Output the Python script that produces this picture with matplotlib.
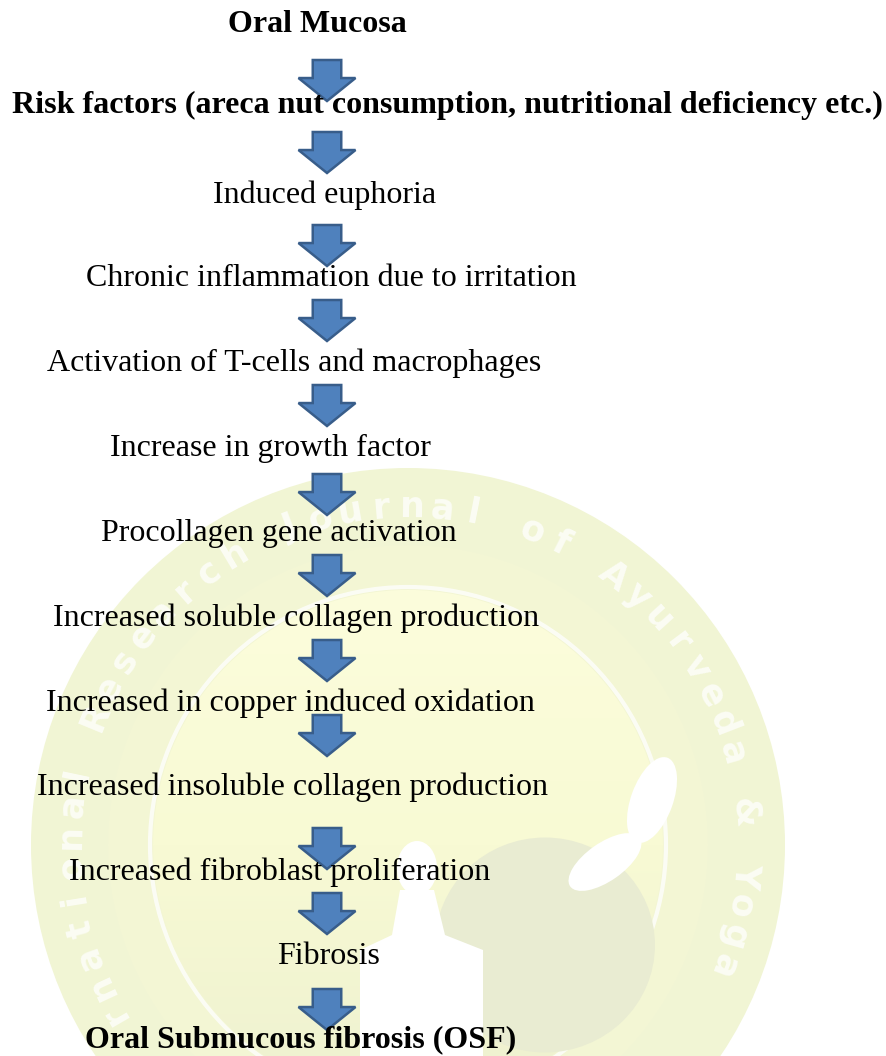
import numpy as np
import matplotlib
matplotlib.use("Agg")
import matplotlib.pyplot as plt
from matplotlib.patches import Polygon, Circle, Ellipse

# Flowchart steps (top to bottom)
steps = [
    "Oral Mucosa",
    "Risk factors (areca nut consumption, nutritional deficiency etc.)",
    "Induced euphoria",
    "Chronic inflammation due to irritation",
    "Activation of T-cells and macrophages",
    "Increase in growth factor",
    "Procollagen gene activation",
    "Increased soluble collagen production",
    "Increased in copper induced oxidation",
    "Increased insoluble collagen production",
    "Increased fibroblast proliferation",
    "Fibrosis",
    "Oral Submucous fibrosis (OSF)",
]
bold_steps = [True, True, False, False, False, False, False,
              False, False, False, False, False, True]

# Layout in pixels (figure is 886 x 1056)
text_x = [317, 447, 325, 331, 294, 270, 279, 296, 290, 293, 280, 329, 301]
text_y = [24, 105, 195, 279, 363, 448, 533, 618, 703, 787, 872, 957, 1040]
arrow_top = [60, 132, 225, 300, 385, 474, 555, 640, 715, 828, 893, 989]
arrow_cx = 327
arrow_w = 57
arrow_h = 41

watermark_text = "International Research Journal of Ayurveda & Yoga"

W, H = 886, 1056
fig = plt.figure(figsize=(W / 100, H / 100), dpi=100)
ax = fig.add_axes([0, 0, 1, 1])
ax.set_xlim(0, W)
ax.set_ylim(H, 0)
ax.axis("off")

# --- faint watermark emblem in the background ---
cx, cy = 408, 845
ax.add_patch(Circle((cx, cy), 377, facecolor="#f1f5d4", edgecolor="none", zorder=0))
ax.add_patch(Circle((cx, cy), 300, facecolor="#f3f6d4", edgecolor="none", zorder=0))

# inner disk with a soft vertical gradient
grad = np.linspace(0, 1, 256).reshape(-1, 1)
inner = Circle((cx, cy), 255, transform=ax.transData)
img = ax.imshow(grad, extent=(cx - 255, cx + 255, cy + 255, cy - 255),
                cmap=matplotlib.colors.LinearSegmentedColormap.from_list(
                    "wm", ["#fcfddc", "#f8fad4", "#eef1d0"]),
                aspect="auto", zorder=0.5)
img.set_clip_path(inner)
ax.add_patch(Circle((cx, cy), 258, facecolor="none", edgecolor="white",
                    lw=3, alpha=0.75, zorder=0.6))

# darker blob and white silhouette
ax.add_patch(Ellipse((545, 945), 220, 215, facecolor="#e9ecd2", edgecolor="none", zorder=0.7))
ax.add_patch(Ellipse((417, 868), 40, 54, facecolor="white", edgecolor="none", zorder=0.8))
ax.add_patch(Polygon([(400, 890), (434, 890), (445, 935), (483, 950), (483, 1056),
                      (360, 1056), (360, 950), (392, 935)],
                     closed=True, facecolor="white", edgecolor="none", zorder=0.8))
ax.add_patch(Ellipse((605, 862), 85, 38, angle=-35, facecolor="white",
                     edgecolor="none", zorder=0.8))
ax.add_patch(Ellipse((652, 800), 90, 42, angle=-70, facecolor="white",
                     edgecolor="none", zorder=0.8))

# ring lettering, read clockwise
step_deg = 5.25
start_deg = 197 + 6.5 * step_deg
r_txt = 338
for i, ch in enumerate(watermark_text):
    if ch == " ":
        continue
    th = np.radians(start_deg - i * step_deg)
    x = cx + r_txt * np.cos(th)
    y = cy - r_txt * np.sin(th)
    if y > H - 25:
        continue
    ax.text(x, y, ch, rotation=np.degrees(th) - 90, ha="center", va="center",
            fontsize=25, fontweight="bold", color="white", alpha=0.75,
            family="DejaVu Sans", zorder=0.9, rotation_mode="anchor")

# --- arrows ---
for t in arrow_top:
    sw = arrow_w * 0.25
    ht = t + 0.44 * arrow_h
    pts = [(arrow_cx - sw, t), (arrow_cx + sw, t), (arrow_cx + sw, ht),
           (arrow_cx + arrow_w / 2, ht), (arrow_cx, t + arrow_h),
           (arrow_cx - arrow_w / 2, ht), (arrow_cx - sw, ht)]
    ax.add_patch(Polygon(pts, closed=True, facecolor="#4f81bd", edgecolor="#385d8a",
                         lw=1.8, joinstyle="miter", zorder=3))

# --- step labels ---
for label, b, x, y in zip(steps, bold_steps, text_x, text_y):
    ax.text(x, y, label, ha="center", va="center", fontsize=23,
            fontweight="bold" if b else "normal", family="Liberation Serif",
            color="black", zorder=4)

fig.savefig("out.png", dpi=100)
